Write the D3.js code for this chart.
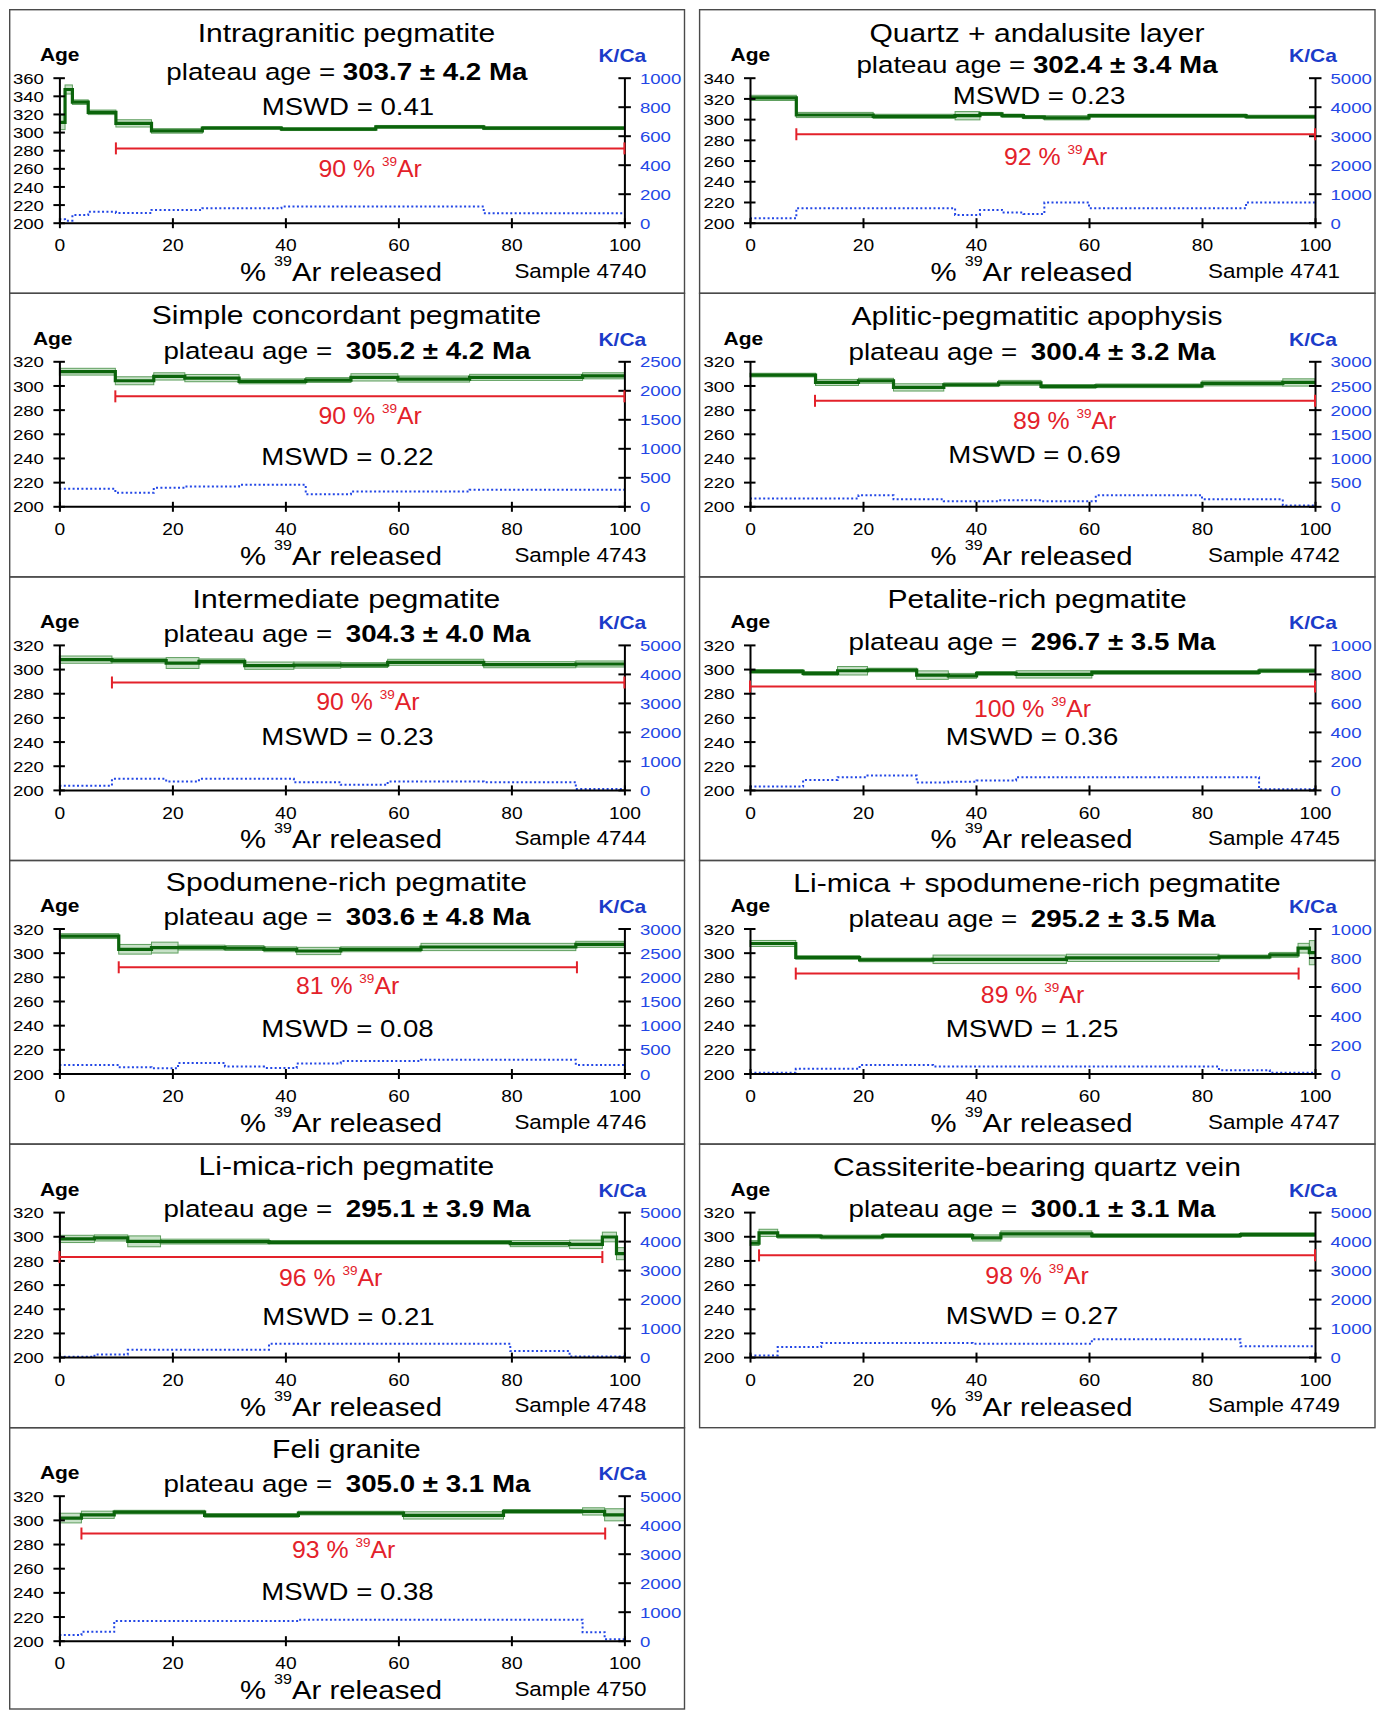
<!DOCTYPE html>
<html><head><meta charset="utf-8">
<script src="https://cdn.jsdelivr.net/npm/d3@7"></script>
<style>body{margin:0;background:#fff} svg{display:block}</style>
</head><body><svg id="c" width="1376" height="1710"></svg>
<script>
// ---------- DATA ----------
const sampleIds = ["4740","4741","4743","4742","4744","4745","4746","4747","4748","4749","4750"];
const titles = ["Intragranitic pegmatite","Quartz + andalusite layer","Simple concordant pegmatite","Aplitic-pegmatitic apophysis","Intermediate pegmatite","Petalite-rich pegmatite","Spodumene-rich pegmatite","Li-mica + spodumene-rich pegmatite","Li-mica-rich pegmatite","Cassiterite-bearing quartz vein","Feli granite"];
const plateauAges = ["303.7 ± 4.2 Ma","302.4 ± 3.4 Ma","305.2 ± 4.2 Ma","300.4 ± 3.2 Ma","304.3 ± 4.0 Ma","296.7 ± 3.5 Ma","303.6 ± 4.8 Ma","295.2 ± 3.5 Ma","295.1 ± 3.9 Ma","300.1 ± 3.1 Ma","305.0 ± 3.1 Ma"];
const mswdValues = ["0.41","0.23","0.22","0.69","0.23","0.36","0.08","1.25","0.21","0.27","0.38"];
const plateauPercent = [90,92,90,89,90,100,81,89,96,98,93];
const plateauStart = [10,8.2,9.9,11.5,9.3,0,10.5,8.1,0,1.6,3.9];
const plateauEnd = [100,100,100,100,100,100,91.6,97.1,96.1,100,96.6];
const plateauBarAge = [282,285.4,291,287.3,288.9,285.6,287.9,282.7,282.8,284.2,288.7];
const ageMax = [360,340,320,320,320,320,320,320,320,320,320];
const kcaMax = [1000,5000,2500,3000,5000,1000,3000,1000,5000,5000,5000];
const kcaStep = [200,1000,500,500,1000,200,500,200,1000,1000,1000];
const xTicks = [0,20,40,60,80,100];

const cum4740 = [0,1.0,2.3,5.1,10.0,16.3,25.3,39.3,56.0,75.1,100];
const age4740 = [310.7,347,333,321.8,309.6,301.3,304.5,303.2,305.8,304.3];
const err4740 = [8,5,2.5,2.5,4,2.5,1.5,1.5,1.5,1.5];
const kca4740 = [23,14,53,75,67,88,100,111,111,65];

const cum4741 = [0,8.2,21.8,36.3,40.7,44.6,48.4,52.1,60.0,87.8,100];
const age4741 = [320.5,304,302.7,303.3,305,303.3,302,301.3,303.3,302.3];
const err4741 = [2.5,2.5,2,4,1.5,1.5,1.5,2,1.5,1.5];
const kca4741 = [152,500,500,268,442,348,303,696,500,696];

const cum4743 = [0,9.9,16.7,22.2,31.8,43.6,51.6,59.9,72.6,92.6,100];
const age4743 = [311.4,303.9,307.5,306.1,303.4,304.5,306.7,305.3,306.7,308];
const err4743 = [2.8,3.3,3,3,2,2,3,2.5,2.5,2.5];
const kca4743 = [301,232,318,341,370,208,254,254,284,284];

const cum4742 = [0,11.6,19.2,25.4,34.3,44.0,51.5,61.2,80.0,94.3,100];
const age4742 = [308.6,302.5,303.9,298.4,300.6,302.2,299.2,299.7,301.7,302.5];
const err4742 = [1.5,2.5,2,3,1.5,2,1.5,1.5,2,3];
const kca4742 = [160,160,229,146,104,125,104,229,146,15];

const cum4744 = [0,9.3,18.9,24.7,32.8,41.5,49.8,58.1,75.1,91.4,100];
const age4744 = [307.8,307,305,306.4,302.8,303.3,303.3,305.6,303.6,304.2];
const err4744 = [3,2,4.5,2,3,2.5,2,2.5,2.5,2.5];
const kca4744 = [139,382,289,382,382,266,174,289,266,35];

const cum4745 = [0,9.4,15.5,20.8,29.5,35.1,40.1,47.1,60.5,90.1,100];
const age4745 = [298.1,296.4,298.6,299.2,295,294.4,296.4,295.6,297.2,298.6];
const err4745 = [1.5,1.5,3.5,1.5,3.5,2,1.5,3,1.5,1.5];
const kca4745 = [23,69,88,99,51,56,65,88,88,5];

const cum4746 = [0,10.5,16.3,21.0,29.3,36.2,42.0,49.8,64.0,91.4,100];
const age4746 = [313.7,302.8,304.2,304.2,303.8,302.8,301.4,302.8,304.7,306.9];
const err4746 = [2,4,4.5,2,2,2,3,2,3,2.5];
const kca4746 = [178,131,110,219,143,116,205,260,286,178];

const cum4747 = [0,8.1,19.4,32.4,56.0,83.0,92.0,97.0,99.0,100];
const age4747 = [307.6,296,294,294.5,295.7,296.5,298.2,303.7,300];
const err4747 = [2.5,1.5,1.5,3.5,3,1.5,2,4,10];
const kca4747 = [5,32,58,48,48,23,5,5,5];

const cum4748 = [0,6.2,12.1,17.9,37.1,79.8,90.3,96.1,98.6,100];
const age4748 = [297.8,298.6,295.8,295.6,295,293.9,293.3,299.4,285.6];
const err4748 = [3,2.5,4.5,2,1.5,2.5,3.5,4,5];
const kca4748 = [10,92,255,255,463,208,23,23,23];

const cum4749 = [0,1.6,4.9,12.6,23.5,39.4,44.4,60.5,86.8,100];
const age4749 = [294.4,302.8,300,299.4,300.6,298.6,301.9,300.6,301.4];
const err4749 = [2,3,1.5,1.5,1.5,2.5,2.5,1.5,1.5];
const kca4749 = [58,58,347,486,486,463,463,613,370];

const cum4750 = [0,3.9,9.7,25.7,42.3,60.9,78.6,92.6,96.5,100];
const age4750 = [301.5,304.2,306.4,303.7,305.6,303.7,307,307,304.2];
const err4750 = [4,3,1.5,1.5,1.5,3,1.5,3,5];
const kca4750 = [193,305,678,678,726,726,726,295,47];

const spectra = [
  [cum4740,age4740,err4740,kca4740],[cum4741,age4741,err4741,kca4741],
  [cum4743,age4743,err4743,kca4743],[cum4742,age4742,err4742,kca4742],
  [cum4744,age4744,err4744,kca4744],[cum4745,age4745,err4745,kca4745],
  [cum4746,age4746,err4746,kca4746],[cum4747,age4747,err4747,kca4747],
  [cum4748,age4748,err4748,kca4748],[cum4749,age4749,err4749,kca4749],
  [cum4750,age4750,err4750,kca4750]
];

// ---------- LAYOUT (positions only) ----------
const layout = [
  {title:-181, plat:-142.7, platX:287.5, gap:0, mswd:-107.7, mswdX:288.5, pct:-46, pctX:55, ageX:-19.5},
  {title:-181, plat:-150, platX:287, gap:0, mswd:-118.4, mswdX:289, pct:-57.7, pctX:54.1, ageX:-19.5},
  {title:-182.4, plat:-147.7, platX:287.5, gap:5, mswd:-41.7, mswdX:288, pct:-82.4, pctX:55, ageX:-26.5},
  {title:-181.7, plat:-146.7, platX:282, gap:5, mswd:-43.4, mswdX:284.5, pct:-77.7, pctX:55.7, ageX:-26.5},
  {title:-181.7, plat:-148.3, platX:287.5, gap:5, mswd:-45, mswdX:288, pct:-80, pctX:54.6, ageX:-19.5},
  {title:-181.7, plat:-140, platX:282, gap:5, mswd:-45, mswdX:282, pct:-73.3, pctX:50, ageX:-19.5},
  {title:-182.4, plat:-149, platX:287.5, gap:5, mswd:-36.4, mswdX:288, pct:-80, pctX:51, ageX:-19.5},
  {title:-181.4, plat:-146.7, platX:282, gap:5, mswd:-36.4, mswdX:282, pct:-70.7, pctX:50, ageX:-19.5},
  {title:-181.7, plat:-140, platX:287.5, gap:5, mswd:-32.3, mswdX:289, pct:-70.7, pctX:48, ageX:-19.5},
  {title:-180.7, plat:-140, platX:282, gap:5, mswd:-33.3, mswdX:282, pct:-73.3, pctX:50.8, ageX:-19.5},
  {title:-182.4, plat:-149, platX:287.5, gap:5, mswd:-40.7, mswdX:288, pct:-82.4, pctX:50.3, ageX:-19.5}
];

const FONT = '"Liberation Sans", Arial, Helvetica, sans-serif';
const pitch = 283.6, B0 = 222.7, plotH = 145, plotW = 565;
const colX0 = [59.4, 750];
const boxX = [[9.7, 684.5], [699.6, 1375]];
const GREEN = "#0b640b", BLUE = "#2347e6", RED = "#e3212a", KCOL = "#1b3bc9";

const svg = d3.select("#c");
svg.append("rect").attr("width",1376).attr("height",1710).attr("fill","#fff");

function label(g, x, y, size, sx, anchor, fill, weight) {
  return g.append("text")
    .attr("transform", `translate(${x},${y}) scale(${sx},1)`)
    .attr("text-anchor", anchor).attr("font-size", size)
    .attr("font-family", FONT).attr("fill", fill).attr("font-weight", weight || "normal");
}

sampleIds.forEach((id, i) => {
  const col = i % 2, row = Math.floor(i / 2);
  const B = B0 + row * pitch, x0 = colX0[col];
  const L = layout[i];
  const [cum, age, err, kca] = spectra[i];
  const g = svg.append("g");

  const top = B - 213;
  const h = (row === 5) ? 1709 - top : pitch;
  g.append("rect").attr("x", boxX[col][0]).attr("y", top)
    .attr("width", boxX[col][1] - boxX[col][0]).attr("height", h)
    .attr("fill", "none").attr("stroke", "#4a4a4a").attr("stroke-width", 1.4);

  const x = d3.scaleLinear().domain([0, 100]).range([x0, x0 + plotW]);
  const y = d3.scaleLinear().domain([200, ageMax[i]]).range([B, B - plotH]);
  const k = d3.scaleLinear().domain([0, kcaMax[i]]).range([B, B - plotH]);

  const steps = age.map((a, j) => ({x1: cum[j], x2: cum[j + 1], a, e: err[j], kc: kca[j]}));

  g.append("g").selectAll("rect").data(steps).join("rect")
    .attr("x", d => x(d.x1)).attr("width", d => x(d.x2) - x(d.x1))
    .attr("y", d => y(d.a + d.e)).attr("height", d => y(d.a - d.e) - y(d.a + d.e))
    .attr("fill", "rgba(70,155,70,0.30)").attr("stroke", "#5f9f5f").attr("stroke-width", 1);

  const kpts = steps.map(d => [d.x1, d.kc]).concat([[100, steps[steps.length - 1].kc]]);
  g.append("path").datum(kpts)
    .attr("d", d3.line().x(d => x(d[0])).y(d => k(d[1])).curve(d3.curveStepAfter))
    .attr("fill", "none").attr("stroke", BLUE).attr("stroke-width", 2).attr("stroke-dasharray", "2,2.4");

  const apts = steps.map(d => [d.x1, d.a]).concat([[100, steps[steps.length - 1].a]]);
  g.append("path").datum(apts)
    .attr("d", d3.line().x(d => x(d[0])).y(d => y(d[1])).curve(d3.curveStepAfter))
    .attr("fill", "none").attr("stroke", GREEN).attr("stroke-width", 3.2);

  const ay = g.append("g").attr("transform", `translate(${x0},0)`)
    .call(d3.axisLeft(y).tickValues(d3.range(200, ageMax[i] + 1, 20)).tickFormat(d3.format("d")).tickSizeOuter(0));
  ay.select(".domain").attr("stroke", "#000").attr("stroke-width", 2);
  ay.selectAll(".tick line").attr("x1", 5.5).attr("x2", -6).attr("stroke", "#000").attr("stroke-width", 2);
  ay.selectAll(".tick text").attr("x", 0).attr("dy", null)
    .attr("transform", "translate(-15.5,5.6) scale(1.2,1)")
    .attr("font-size", 15.5).attr("font-family", FONT).attr("fill", "#000");

  const ak = g.append("g").attr("transform", `translate(${x0 + plotW},0)`)
    .call(d3.axisRight(k).tickValues(d3.range(0, kcaMax[i] + 1, kcaStep[i])).tickFormat(d3.format("d")).tickSizeOuter(0));
  ak.select(".domain").attr("stroke", "#000").attr("stroke-width", 2);
  ak.selectAll(".tick line").attr("x1", -6).attr("x2", 6.5).attr("stroke", "#000").attr("stroke-width", 2);
  ak.selectAll(".tick text").attr("x", 0).attr("dy", null)
    .attr("transform", "translate(15.5,5.6) scale(1.2,1)")
    .attr("font-size", 15.5).attr("font-family", FONT).attr("fill", BLUE);

  const ax = g.append("g").attr("transform", `translate(0,${B})`)
    .call(d3.axisBottom(x).tickValues(xTicks).tickFormat(d3.format("d")).tickSizeOuter(0));
  ax.select(".domain").attr("stroke", "#000").attr("stroke-width", 2);
  ax.selectAll(".tick line").attr("y1", -4.5).attr("y2", 5.5).attr("stroke", "#000").attr("stroke-width", 2);
  ax.selectAll(".tick text").attr("y", 0).attr("dy", null)
    .attr("transform", "translate(0,28.7) scale(1.2,1)")
    .attr("font-size", 16).attr("font-family", FONT).attr("fill", "#000");

  const by = y(plateauBarAge[i]), bx1 = x(plateauStart[i]), bx2 = x(plateauEnd[i]);
  const bar = g.append("g").attr("stroke", RED).attr("stroke-width", 2);
  bar.append("line").attr("x1", bx1).attr("x2", bx2).attr("y1", by).attr("y2", by);
  bar.append("line").attr("x1", bx1).attr("x2", bx1).attr("y1", by - 6).attr("y2", by + 6);
  bar.append("line").attr("x1", bx2).attr("x2", bx2).attr("y1", by - 6).attr("y2", by + 6);

  label(g, x0 + 287, B + L.title, 25.5, 1.18, "middle", "#000").text(titles[i]);

  const pt = label(g, x0 + L.platX, B + L.plat, 23.5, 1.18, "middle", "#000");
  pt.append("tspan").text("plateau age = ");
  pt.append("tspan").attr("font-weight", "bold").attr("dx", L.gap).text(plateauAges[i]);

  label(g, x0 + L.mswdX, B + L.mswd, 23, 1.2, "middle", "#000").text("MSWD = " + mswdValues[i]);

  const rt = label(g, x(L.pctX), B + L.pct, 23, 1.08, "middle", RED);
  rt.append("tspan").text(plateauPercent[i] + " % ");
  rt.append("tspan").attr("font-size", 12.5).attr("dy", -11).text("39");
  rt.append("tspan").attr("dy", 11).text("Ar");

  label(g, x0 + L.ageX, B - 161.5, 17.5, 1.2, "start", "#000", "bold").text("Age");
  label(g, x0 + 539, B - 160.5, 17.5, 1.2, "start", KCOL, "bold").text("K/Ca");

  const xt = label(g, x0 + 180.5, B + 58.5, 25.5, 1.15, "start", "#000");
  xt.append("tspan").text("% ");
  xt.append("tspan").attr("font-size", 14).attr("dy", -15).text("39");
  xt.append("tspan").attr("dy", 15).text("Ar released");

  label(g, x0 + (col ? 458 : 455), B + 55.3, 19.5, 1.15, "start", "#000").text("Sample " + id);
});
</script></body></html>
